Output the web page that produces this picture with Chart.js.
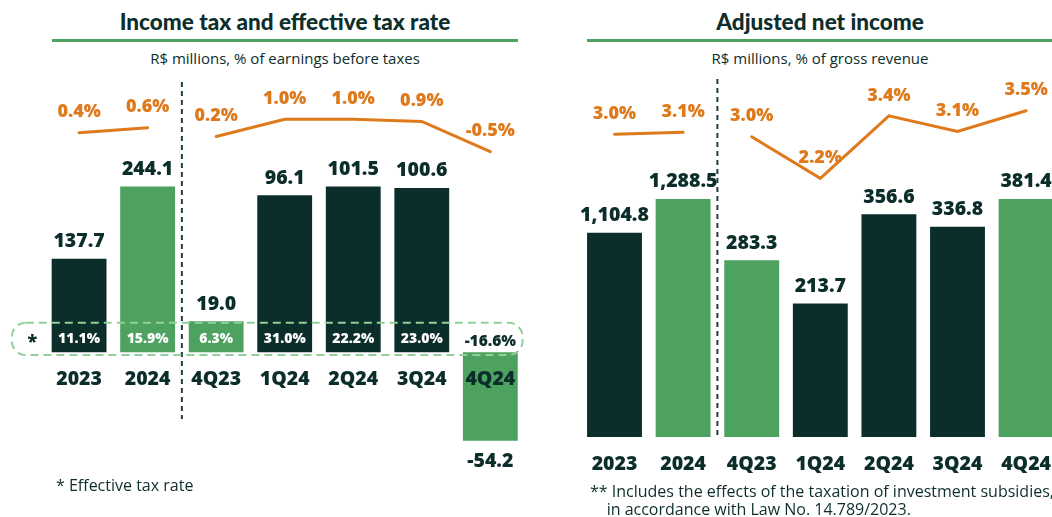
<!DOCTYPE html>
<html>
<head>
<meta charset="utf-8">
<script src="https://cdn.jsdelivr.net/npm/chart.js@4.4.1/dist/chart.umd.min.js"></script>
<style>
  html, body { margin: 0; padding: 0; background: #fff; overflow: hidden; }
  body { width: 1052px; height: 517px; position: relative; font-family: "Open Sans", sans-serif; color: #0d2e2b; }
  .title { position: absolute; top: 8px; line-height: 27px; text-align: center; font-family: Lato, sans-serif; font-weight: 900; font-size: 22.5px; }
  .rule { position: absolute; top: 39px; height: 3px; background: #4ca25e; }
  .sub { position: absolute; top: 48px; line-height: 20px; text-align: center; font-size: 15px; }
  .note { position: absolute; font-size: 16px; line-height: 18px; white-space: nowrap; }
  canvas { position: absolute; top: 0; }
</style>
</head>
<body>
  <div class="title" style="left:45px;width:480px">Income tax and effective tax rate</div>
  <div class="rule" style="left:52px;width:466px"></div>
  <div class="sub" style="left:45px;width:480px">R$ millions, % of earnings before taxes</div>

  <div class="title" style="left:580px;width:480px">Adjusted net income</div>
  <div class="rule" style="left:587px;width:465px"></div>
  <div class="sub" style="left:580px;width:480px">R$ millions, % of gross revenue</div>

  <canvas id="taxChart" width="540" height="517" style="left:0"></canvas>
  <canvas id="netChart" width="530" height="517" style="left:540px"></canvas>

  <div class="note" style="left:56px;top:476px">* Effective tax rate</div>
  <div class="note" style="left:590px;top:482px">** Includes the effects of the taxation of investment subsidies,<br>&nbsp;&nbsp;&nbsp;&nbsp;in accordance with Law No. 14.789/2023.</div>

<script>
const categories = ['2023', '2024', '4Q23', '1Q24', '2Q24', '3Q24', '4Q24'];

// income tax, R$ millions
const taxAnnual = [137.7, 244.1, null, null, null, null, null];
const taxQuarterly = [null, null, 19.0, 96.1, 101.5, 100.6, -54.2];
// income tax, % of earnings before taxes
const taxPctAnnual = [0.4, 0.6, null, null, null, null, null];
const taxPctQuarterly = [null, null, 0.2, 1.0, 1.0, 0.9, -0.5];
// effective tax rate
const effectiveRate = [11.1, 15.9, 6.3, 31.0, 22.2, 23.0, -16.6];

// adjusted net income, R$ millions
const netAnnual = [1104.8, 1288.5, null, null, null, null, null];
const netQuarterly = [null, null, 283.3, 213.7, 356.6, 336.8, 381.4];
// adjusted net income, % of gross revenue
const netPctAnnual = [3.0, 3.1, null, null, null, null, null];
const netPctQuarterly = [null, null, 3.0, 2.2, 3.4, 3.1, 3.5];

const DARK = '#0c2e2b';
const GREEN = '#4ca25e';
const ORANGE = '#df7a1c';
const barColors = [DARK, GREEN, GREEN, DARK, DARK, DARK, GREEN];
const BOLD = '"Open Sans"';

function fmt(v) {
  return v.toLocaleString('en-US', { minimumFractionDigits: 1, maximumFractionDigits: 1 });
}

const labelPlugin = {
  id: 'labels',
  afterDatasetsDraw(chart, args, opts) {
    const ctx = chart.ctx;
    const x = chart.scales.x;
    const zero = chart.scales.yA.getPixelForValue(0);
    const area = chart.chartArea;
    ctx.save();
    ctx.textAlign = 'center';
    ctx.textBaseline = 'alphabetic';

    // dashed separator between years and quarters
    const sepX = (x.getPixelForValue(1) + x.getPixelForValue(2)) / 2;
    ctx.strokeStyle = '#1f3f3c';
    ctx.lineWidth = 2;
    ctx.setLineDash([5, 4]);
    ctx.beginPath();
    ctx.moveTo(sepX, opts.sepTop);
    ctx.lineTo(sepX, opts.sepBottom);
    ctx.stroke();
    ctx.setLineDash([]);

    // bar values
    ctx.font = '800 19.5px ' + BOLD;
    ctx.fillStyle = DARK;
    [0, 1].forEach(di => {
      const data = chart.data.datasets[di].data;
      chart.getDatasetMeta(di).data.forEach((bar, i) => {
        const v = data[i];
        if (v == null) return;
        const y = v >= 0 ? bar.y - 11.5 : bar.y + 26;
        ctx.fillText(fmt(v), bar.x, y);
      });
    });

    // category labels
    categories.forEach((c, i) => {
      ctx.fillText(c, x.getPixelForValue(i), zero + 33);
    });

    // percent labels over the lines
    ctx.font = '800 18px ' + BOLD;
    ctx.fillStyle = ORANGE;
    [2, 3].forEach(di => {
      const data = chart.data.datasets[di].data;
      chart.getDatasetMeta(di).data.forEach((pt, i) => {
        const v = data[i];
        if (v == null) return;
        ctx.fillText(v.toFixed(1) + '%', pt.x, pt.y - 15.3);
      });
    });

    // effective tax rate row
    if (opts.rates) {
      ctx.strokeStyle = '#92cf9b';
      ctx.lineWidth = 2;
      ctx.setLineDash([8, 5]);
      ctx.beginPath();
      ctx.roundRect(area.left - 33, zero - 29.6, area.right - 2 - (area.left - 33), 32.3, 14);
      ctx.stroke();
      ctx.setLineDash([]);

      ctx.font = '800 18px ' + BOLD;
      ctx.fillStyle = DARK;
      ctx.fillText('*', area.left - 12.5, zero - 5);

      opts.rates.forEach((r, i) => {
        const neg = r < 0;
        ctx.font = neg ? '800 15.5px ' + BOLD : '800 14px ' + BOLD;
        ctx.fillStyle = neg ? DARK : '#ffffff';
        ctx.fillText(r.toFixed(1) + '%', x.getPixelForValue(i), zero - (neg ? 6 : 9.6));
      });
    }
    ctx.restore();
  }
};

function makeChart(id, annual, quarterly, pctAnnual, pctQuarterly, axes, pad, extra) {
  return new Chart(document.getElementById(id), {
    data: {
      labels: categories,
      datasets: [
        { type: 'bar', data: annual, yAxisID: 'yA', backgroundColor: barColors,
          barPercentage: 0.8, categoryPercentage: 1, grouped: false, order: 2 },
        { type: 'bar', data: quarterly, yAxisID: 'yQ', backgroundColor: barColors,
          barPercentage: 0.8, categoryPercentage: 1, grouped: false, order: 2 },
        { type: 'line', data: pctAnnual, yAxisID: 'yLA', borderColor: ORANGE, borderWidth: 3,
          pointRadius: 0, tension: 0, borderCapStyle: 'round', order: 1 },
        { type: 'line', data: pctQuarterly, yAxisID: 'yLQ', borderColor: ORANGE, borderWidth: 3,
          pointRadius: 0, tension: 0, borderCapStyle: 'round', borderJoinStyle: 'miter', order: 1 }
      ]
    },
    options: {
      responsive: false,
      animation: false,
      layout: { padding: pad },
      plugins: {
        legend: { display: false },
        tooltip: { enabled: false },
        labels: extra
      },
      scales: {
        x: { display: false },
        yA: { display: false, min: axes.yA[0], max: axes.yA[1] },
        yQ: { display: false, min: axes.yQ[0], max: axes.yQ[1] },
        yLA: { display: false, min: axes.yLA[0], max: axes.yLA[1] },
        yLQ: { display: false, min: axes.yLQ[0], max: axes.yLQ[1] }
      }
    },
    plugins: [labelPlugin]
  });
}

document.addEventListener('DOMContentLoaded', function() {
  makeChart('taxChart', taxAnnual, taxQuarterly, taxPctAnnual, taxPctQuarterly,
    { yA: [-217.5, 371.6], yQ: [-90.4, 154.4], yLA: [-14.292, 1.708], yLQ: [-16.563, 1.8865] },
    { left: 44.8, right: 15.4, top: 100, bottom: 17 },
    { rates: effectiveRate, sepTop: 82, sepBottom: 419 });

  makeChart('netChart', netAnnual, netQuarterly, netPctAnnual, netPctQuarterly,
    { yA: [-340.9, 1823.6], yQ: [-100.9, 539.8], yLA: [-15.285, 4.715], yLQ: [-3.975, 3.7055] },
    { left: 40.2, right: 9.6, top: 100, bottom: 17 },
    { sepTop: 79, sepBottom: 439 });
});
</script>
</body>
</html>
